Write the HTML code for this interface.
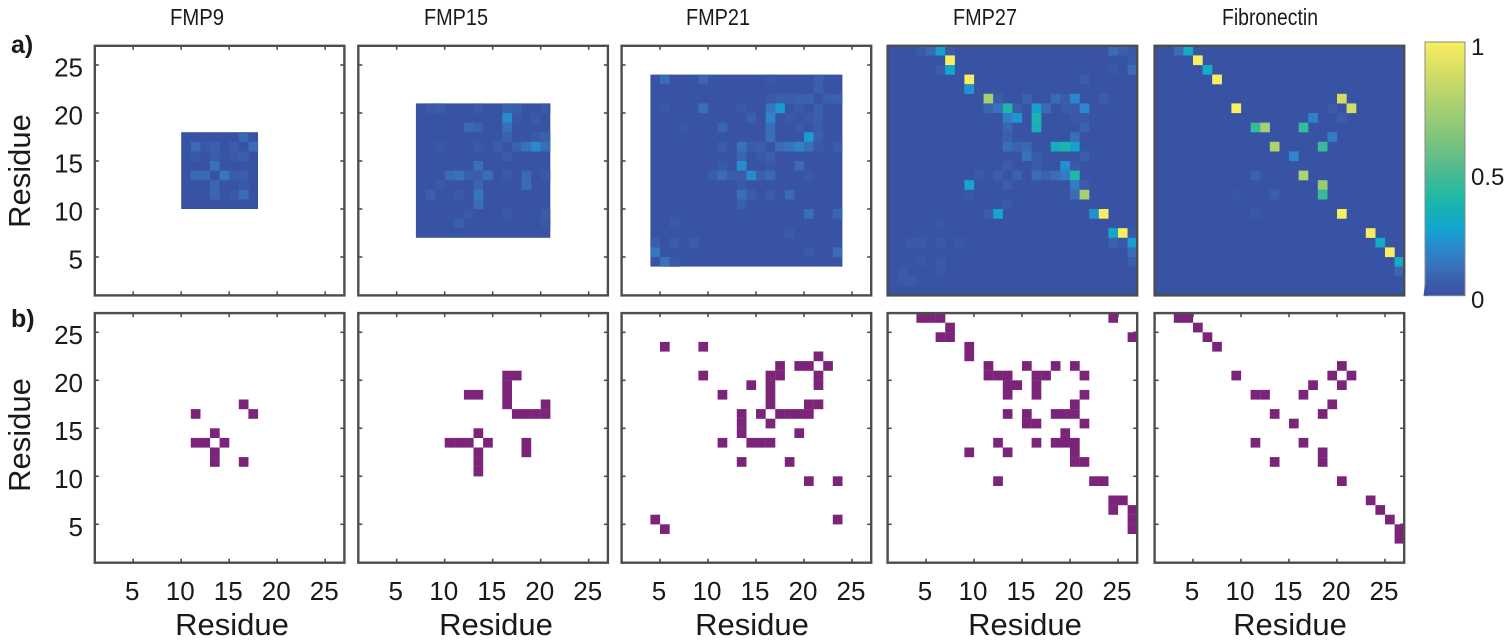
<!DOCTYPE html>
<html>
<head>
<meta charset="utf-8">
<style>
html,body{margin:0;padding:0;background:#fff;}
svg{display:block;}
text{font-family:"Liberation Sans",sans-serif;fill:#1a1a1a;}
</style>
</head>
<body>
<svg id="fig" width="1511" height="642" viewBox="0 0 1511 642" xmlns="http://www.w3.org/2000/svg"></svg>
<script>
// ---------- Data (residue x, residue y, value) ----------
const panelTitles = ['FMP9', 'FMP15', 'FMP21', 'FMP27', 'Fibronectin'];
const tickLabels = [5, 10, 15, 20, 25];
const colorbarLabels = [0, 0.5, 1];
const residueMin = 1;
const residueMax = 27;
// first and last residue covered by each peptide's heatmap block
const blockFirst = [10, 7, 4, 1, 1];
const blockLast = [17, 20, 23, 26, 26];

const heatFmp9 = [[16,17,.08],[17,16,.1],[11,16,.09],[11,15,.04],[12,16,.03],[13,16,.06],[13,15,.05],[15,16,.05],[15,15,.04],[16,15,.06],[13,14,.12],[11,13,.09],[12,13,.09],[14,13,.13],[15,13,.05],[16,13,.06],[13,12,.08],[16,12,.04],[13,11,.08],[15,11,.04],[16,11,.1]];
const heatFmp15 = [[8,20,.04],[9,20,.05],[13,20,.04],[16,20,.07],[17,20,.06],[20,20,.04],[16,19,.2],[17,19,.03],[19,19,.04],[12,18,.09],[13,18,.07],[16,18,.11],[16,17,.07],[19,17,.04],[20,17,.06],[9,16,.03],[13,16,.04],[15,16,.05],[17,16,.07],[18,16,.12],[19,16,.2],[20,16,.1],[16,15,.05],[13,14,.11],[10,13,.09],[11,13,.12],[12,13,.06],[13,13,.05],[14,13,.1],[16,13,.04],[18,13,.09],[20,13,.03],[9,12,.03],[13,12,.08],[18,12,.1],[8,11,.06],[11,11,.04],[13,11,.13],[13,10,.1],[12,9,.04],[16,9,.03],[20,9,.05],[11,8,.06],[20,8,.03]];
const heatFmp21 = [[5,23,.1],[9,23,.08],[16,23,.03],[21,23,.06],[21,22,.06],[16,21,.03],[17,21,.06],[18,21,.06],[19,21,.07],[20,21,.07],[22,21,.06],[23,21,.07],[5,20,.03],[9,20,.11],[13,20,.03],[16,20,.13],[17,20,.24],[19,20,.04],[21,20,.06],[14,19,.06],[16,19,.18],[18,19,.03],[20,19,.03],[21,19,.06],[7,18,.03],[11,18,.08],[16,18,.1],[19,18,.04],[21,18,.05],[16,17,.11],[20,17,.24],[21,17,.06],[11,16,.05],[13,16,.12],[14,16,.05],[15,16,.06],[17,16,.1],[18,16,.12],[19,16,.18],[20,16,.11],[21,16,.04],[23,16,.05],[13,15,.08],[15,15,.04],[16,15,.06],[11,14,.04],[13,14,.2],[16,14,.03],[19,14,.09],[10,13,.05],[11,13,.1],[12,13,.05],[13,13,.05],[14,13,.2],[15,13,.06],[16,13,.09],[20,13,.03],[13,12,.04],[13,11,.11],[14,11,.05],[16,11,.05],[18,11,.09],[13,10,.06],[20,9,.11],[23,9,.08],[6,8,.04],[18,7,.04],[4,6,.05],[6,6,.05],[8,6,.05],[4,5,.13],[20,5,.04],[23,5,.1],[5,4,.12],[6,4,.04]];
const heatFmp27 = [[4,26,.05],[5,26,.09],[6,26,.25],[7,26,.04],[24,26,.1],[25,26,.06],[26,26,.03],[7,25,1],[26,25,.05],[6,24,.05],[7,24,.28],[24,24,.03],[26,24,.1],[9,23,1],[21,23,.05],[9,22,.22],[11,21,.74],[12,21,.05],[15,21,.07],[18,21,.09],[19,21,.05],[20,21,.19],[23,21,.05],[11,20,.08],[12,20,.12],[13,20,.38],[14,20,.05],[16,20,.25],[17,20,.1],[19,20,.05],[20,20,.04],[21,20,.19],[13,19,.16],[14,19,.22],[16,19,.36],[20,19,.03],[21,19,.04],[13,18,.08],[16,18,.33],[21,18,.07],[13,17,.06],[20,17,.11],[13,16,.11],[14,16,.07],[15,16,.08],[18,16,.31],[19,16,.37],[20,16,.25],[15,15,.12],[16,15,.05],[21,15,.06],[13,14,.05],[16,14,.05],[19,14,.21],[20,14,.04],[10,13,.04],[12,13,.05],[14,13,.07],[16,13,.1],[17,13,.07],[18,13,.1],[19,13,.15],[20,13,.38],[9,12,.28],[13,12,.05],[20,12,.15],[21,12,.05],[9,11,.03],[20,11,.1],[21,11,.74],[13,10,.04],[11,9,.05],[12,9,.28],[22,9,.21],[23,9,1],[6,8,.03],[24,7,.28],[25,7,1],[26,7,.04],[3,6,.04],[4,6,.04],[6,6,.04],[8,6,.03],[24,6,.07],[25,6,.03],[26,6,.24],[26,5,.1],[4,4,.03],[6,4,.04],[26,4,.06],[2,3,.04],[6,3,.04],[2,2,.03],[3,2,.04]];
const heatFibronectin = [[3,26,.1],[4,26,.3],[5,25,1],[6,24,.3],[7,23,1],[20,21,.87],[9,20,1],[19,20,.05],[21,20,.87],[17,19,.17],[20,19,.05],[11,18,.44],[12,18,.74],[16,18,.44],[19,17,.15],[13,16,.77],[18,16,.44],[15,15,.19],[11,13,.07],[16,13,.77],[18,12,.7],[9,11,.02],[13,11,.06],[18,11,.44],[11,9,.03],[20,9,1],[23,7,1],[24,6,.3],[25,5,1],[26,4,.3],[26,3,.08]];
const heatSeries = [heatFmp9, heatFmp15, heatFmp21, heatFmp27, heatFibronectin];

const contactFmp9 = [[16,17],[11,16],[17,16],[13,14],[11,13],[12,13],[14,13],[13,12],[13,11],[16,11]];
const contactFmp15 = [[16,20],[17,20],[16,19],[12,18],[13,18],[16,18],[16,17],[20,17],[17,16],[18,16],[19,16],[20,16],[13,14],[10,13],[11,13],[12,13],[14,13],[18,13],[13,12],[18,12],[13,11],[13,10]];
const contactFmp21 = [[5,23],[9,23],[21,22],[17,21],[19,21],[20,21],[22,21],[9,20],[16,20],[17,20],[21,20],[14,19],[16,19],[21,19],[11,18],[16,18],[16,17],[20,17],[21,17],[13,16],[15,16],[17,16],[18,16],[19,16],[20,16],[13,15],[16,15],[13,14],[19,14],[11,13],[14,13],[15,13],[16,13],[13,11],[18,11],[20,9],[23,9],[4,5],[23,5],[5,4]];
const contactFmp27 = [[4,26],[5,26],[6,26],[24,26],[7,25],[6,24],[7,24],[26,24],[9,23],[9,22],[11,21],[15,21],[18,21],[20,21],[11,20],[12,20],[13,20],[16,20],[17,20],[21,20],[13,19],[14,19],[16,19],[13,18],[16,18],[21,18],[20,17],[13,16],[15,16],[18,16],[19,16],[20,16],[15,15],[16,15],[21,15],[19,14],[12,13],[16,13],[18,13],[19,13],[20,13],[9,12],[13,12],[20,12],[20,11],[21,11],[12,9],[22,9],[23,9],[24,7],[25,7],[24,6],[26,6],[26,5],[26,4]];
const contactFibronectin = [[3,26],[4,26],[5,25],[6,24],[7,23],[20,21],[9,20],[19,20],[21,20],[17,19],[20,19],[11,18],[12,18],[16,18],[19,17],[13,16],[18,16],[15,15],[11,13],[16,13],[18,12],[18,11],[13,11],[20,9],[23,7],[24,6],[25,5],[26,4],[26,3]];
const contactSeries = [contactFmp9, contactFmp15, contactFmp21, contactFmp27, contactFibronectin];

// ---------- Layout ----------
const NS = 'http://www.w3.org/2000/svg';
const svg = document.getElementById('fig');
const panelLefts = [94.8, 358.3, 621.6, 887.6, 1154.6];
const rowTops = [45.8, 313.1];
const titleStarts = [170, 424, 686, 953, 1222];
const titleWidths = [54, 64, 64, 64, 96];
const xTitleCenters = [232, 496, 752, 1025, 1290];
const yTitleCenters = [171, 435];
const cellSize = 9.6;
const plotSize = (residueMax - residueMin) * cellSize;
const frameColor = '#4d4d4d';
const contactColor = '#7b2479';
const colorStops = [[0,'#3853a4'],[0.05,'#3a5ca9'],[0.1,'#3a6db5'],[0.19,'#2a88ce'],[0.26,'#12a4cf'],[0.38,'#1cb8a8'],[0.5,'#50bb90'],[0.62,'#80c47c'],[0.75,'#a8d070'],[0.87,'#d2dc66'],[1,'#f9ee5f']];

function xAxis(left, residue) { return left + (residue - residueMin) * cellSize; }
function yAxis(top, residue) { return top + (residueMax - residue) * cellSize; }

function hexToRgb(h) { return [1,3,5].map(function (i) { return parseInt(h.substr(i,2),16); }); }
function colorFor(v) {
  for (let i = 1; i < colorStops.length; i++) {
    if (v <= colorStops[i][0]) {
      const a = colorStops[i-1], b = colorStops[i];
      const t = (v - a[0]) / (b[0] - a[0]);
      const ca = hexToRgb(a[1]), cb = hexToRgb(b[1]);
      return 'rgb(' + ca.map(function (c, k) { return Math.round(c + (cb[k]-c)*t); }).join(',') + ')';
    }
  }
  return colorStops[colorStops.length-1][1];
}
function make(tag, attrs, parent) {
  const el = document.createElementNS(NS, tag);
  for (const k in attrs) el.setAttribute(k, attrs[k]);
  (parent || svg).appendChild(el);
  return el;
}
function drawTicks(group, left, top) {
  const right = left + plotSize, bottom = top + plotSize;
  tickLabels.forEach(function (t) {
    const x = xAxis(left, t), y = yAxis(top, t);
    [[x,top,x,top+4],[x,bottom,x,bottom-4],[left,y,left+4,y],[right,y,right-4,y]].forEach(function (c) {
      const tick = make('line', {x1:c[0], y1:c[1], x2:c[2], y2:c[3], stroke:frameColor, 'stroke-width':1.6}, group);
      
      
    });
  });
}
function drawFrame(group, left, top) {
  const frame = make('rect', {x:left, y:top, width:plotSize, height:plotSize, fill:'none', stroke:frameColor, 'stroke-width':2.4}, group);
  
  
}
function addText(str, x, y, size, anchor, parent, extra) {
  const el = make('text', Object.assign({x:x, y:y, 'font-size':size, 'text-anchor':anchor}, extra || {}), parent);
  el.textContent = str;
  return el;
}

panelTitles.forEach(function (title, p) {
  const left = panelLefts[p];
  // heatmap panel
  const topTop = rowTops[0];
  const heatGroup = make('g', {});
  
  
  drawTicks(heatGroup, left, topTop);
  const first = blockFirst[p], last = blockLast[p];
  const block = make('rect', {x:xAxis(left,first), y:yAxis(topTop,last+1), width:(last+1-first)*cellSize, height:(last+1-first)*cellSize, fill:colorFor(0)}, heatGroup);
  
  
  heatSeries[p].forEach(function (d) {
    const cell = make('rect', {x:xAxis(left,d[0]), y:yAxis(topTop,d[1]+1), width:cellSize+0.1, height:cellSize+0.1, fill:colorFor(d[2])}, heatGroup);
    
    
  });
  drawFrame(heatGroup, left, topTop);

  // contact map panel
  const botTop = rowTops[1];
  const contactGroup = make('g', {});
  
  
  contactSeries[p].forEach(function (d) {
    const cell = make('rect', {x:xAxis(left,d[0]), y:yAxis(botTop,d[1]+1), width:cellSize+0.1, height:cellSize+0.1, fill:contactColor}, contactGroup);
    
    
  });
  drawTicks(contactGroup, left, botTop);
  drawFrame(contactGroup, left, botTop);

  // panel title
  const titleEl = addText(title, titleStarts[p], 25, 23, 'start', svg, {textLength:titleWidths[p], lengthAdjust:'spacingAndGlyphs'});
  
  

  // x tick labels and title
  tickLabels.forEach(function (t) {
    const lab = addText(String(t), xAxis(left,t) - 1, 600, 26, 'middle');
    
    
  });
  const xt = addText('Residue', xTitleCenters[p], 635, 31, 'middle');
  
  
});

// y tick labels and titles
rowTops.forEach(function (top, r) {
  tickLabels.forEach(function (t) {
    const lab = addText(String(t), 83, yAxis(top,t) + 11.5, 26, 'end');
    
    
  });
  const cy = yTitleCenters[r];
  const yt = addText('Residue', 30, cy, 31, 'middle', svg, {transform:'rotate(-90 30 ' + cy + ')'});
  
  
});

// row letters
const rowA = addText('a)', 11, 53, 25, 'start', svg, {'font-weight':'bold'});


const rowB = addText('b)', 11, 327, 25, 'start', svg, {'font-weight':'bold'});



// colorbar
const barX = 1425, barW = 40, barTop = 42, barBottom = 295.7;
const defs = make('defs', {});
const grad = make('linearGradient', {id:'cbar', x1:0, y1:1, x2:0, y2:0}, defs);
colorStops.forEach(function (s) {
  make('stop', {offset:s[0], 'stop-color':s[1]}, grad);
});
const barGroup = make('g', {});


const bar = make('rect', {x:barX, y:barTop, width:barW, height:barBottom-barTop, fill:'url(#cbar)', stroke:'#8a8a8a', 'stroke-width':1}, barGroup);


const notch = make('polygon', {points:[barX-1.5,barBottom,barX,barBottom-12,barX+2,barBottom].join(' '), fill:colorFor(0)}, barGroup);


colorbarLabels.forEach(function (v) {
  const y = barBottom - v * (barBottom - barTop);
  const offset = v === 0 ? 12.5 : (v === 1 ? 13 : 16);
  const lab = addText(String(v), 1471, y + offset, 24, 'start');
  
  
});
</script>
</body>
</html>
